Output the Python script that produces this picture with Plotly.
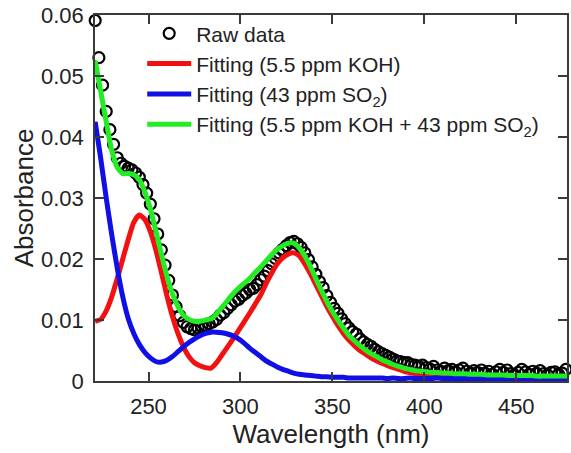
import plotly.graph_objects as go

# Measured spectrum (2 nm sampling)
raw_wavelength = list(range(221, 479, 2))
raw_absorbance = [
    0.0591, 0.0530, 0.0485, 0.0442, 0.0412, 0.0388, 0.0366, 0.0357, 0.0352, 0.0349,
    0.0346, 0.0341, 0.0334, 0.0322, 0.0308, 0.0290, 0.0266, 0.0241, 0.0215, 0.0190,
    0.0165, 0.0141, 0.0122, 0.0107, 0.0096, 0.0089, 0.0086, 0.0084, 0.0087, 0.0089,
    0.0091, 0.0094, 0.0097, 0.0101, 0.0108, 0.0112, 0.0119, 0.0125, 0.0131, 0.0134,
    0.0140, 0.0144, 0.0150, 0.0152, 0.0158, 0.0166, 0.0172, 0.0181, 0.0192, 0.0201,
    0.0210, 0.0216, 0.0222, 0.0227, 0.0229, 0.0225, 0.0219, 0.0210, 0.0199, 0.0187,
    0.0175, 0.0163, 0.0153, 0.0140, 0.0129, 0.0119, 0.0111, 0.0102, 0.0094, 0.0087,
    0.0081, 0.0077, 0.0069, 0.0064, 0.0060, 0.0057, 0.0052, 0.0048, 0.0045, 0.0042,
    0.0039, 0.0036, 0.0033, 0.0032, 0.0030, 0.0030, 0.0027, 0.0026, 0.0024, 0.0026,
    0.0022, 0.0020, 0.0024, 0.0018, 0.0016, 0.0021, 0.0017, 0.0019, 0.0015, 0.0018,
    0.0021, 0.0016, 0.0013, 0.0017, 0.0014, 0.0018, 0.0013, 0.0016, 0.0011, 0.0015,
    0.0019, 0.0014, 0.0018, 0.0012, 0.0010, 0.0014, 0.0019, 0.0015, 0.0011, 0.0016,
    0.0013, 0.0017, 0.0012, 0.0010, 0.0014, 0.0015, 0.0011, 0.0013, 0.0019,
]

# Fitted components (3 nm sampling)
fit_wavelength = list(range(221, 482, 3))
fit_koh = [
    0.0098, 0.0101, 0.0115, 0.0138, 0.0168, 0.0200, 0.0232, 0.0260, 0.0272, 0.0265,
    0.0245, 0.0215, 0.0178, 0.0140, 0.0106, 0.0078, 0.0056, 0.0040, 0.0030, 0.0025,
    0.0022, 0.0021, 0.0030, 0.0043, 0.0056, 0.0069, 0.0083, 0.0097, 0.0111, 0.0126,
    0.0141, 0.0160, 0.0177, 0.0192, 0.0202, 0.0208, 0.0210, 0.0205, 0.0192, 0.0176,
    0.0158, 0.0140, 0.0122, 0.0106, 0.0091, 0.0078, 0.0067, 0.0058, 0.0050, 0.0044,
    0.0038, 0.0033, 0.0029, 0.0025, 0.0022, 0.0019, 0.0016, 0.0014, 0.0012, 0.0011,
    0.0010, 0.0009, 0.0009, 0.0008, 0.0008, 0.0007, 0.0007, 0.0006, 0.0006, 0.0006,
    0.0005, 0.0005, 0.0005, 0.0005, 0.0004, 0.0004, 0.0004, 0.0004, 0.0004, 0.0003,
    0.0003, 0.0003, 0.0003, 0.0003, 0.0003, 0.0003, 0.0003,
]
fit_so2 = [
    0.0425, 0.0365, 0.0300, 0.0240, 0.0185, 0.0138, 0.0102, 0.0078, 0.0060, 0.0047,
    0.0038, 0.0032, 0.0031, 0.0034, 0.0040, 0.0048, 0.0056, 0.0063, 0.0069, 0.0074,
    0.0078, 0.0080, 0.0080, 0.0079, 0.0077, 0.0074, 0.0069, 0.0062, 0.0054, 0.0047,
    0.0040, 0.0033, 0.0028, 0.0023, 0.0019, 0.0016, 0.0013, 0.0011, 0.0010, 0.0009,
    0.0008, 0.0007, 0.0007, 0.0006, 0.0006, 0.0006, 0.0005, 0.0005, 0.0005, 0.0005,
    0.0005, 0.0005, 0.0005, 0.0004, 0.0005, 0.0004, 0.0004, 0.0005, 0.0004, 0.0004,
    0.0004, 0.0004, 0.0005, 0.0004, 0.0004, 0.0004, 0.0004, 0.0004, 0.0004, 0.0003,
    0.0004, 0.0004, 0.0003, 0.0004, 0.0003, 0.0003, 0.0004, 0.0003, 0.0003, 0.0003,
    0.0003, 0.0003, 0.0003, 0.0003, 0.0003, 0.0003, 0.0003,
]
fit_total = [
    0.0525, 0.0475, 0.0425, 0.0378, 0.0350, 0.0340, 0.0340, 0.0338, 0.0330, 0.0310,
    0.0282, 0.0246, 0.0208, 0.0172, 0.0143, 0.0122, 0.0108, 0.0101, 0.0098, 0.0098,
    0.0100, 0.0102, 0.0110, 0.0121, 0.0132, 0.0143, 0.0152, 0.0160, 0.0168, 0.0178,
    0.0187, 0.0197, 0.0207, 0.0216, 0.0222, 0.0226, 0.0226, 0.0218, 0.0205, 0.0188,
    0.0168, 0.0149, 0.0130, 0.0114, 0.0100, 0.0087, 0.0075, 0.0066, 0.0058, 0.0051,
    0.0045, 0.0040, 0.0035, 0.0031, 0.0027, 0.0024, 0.0021, 0.0019, 0.0017, 0.0016,
    0.0015, 0.0014, 0.0014, 0.0013, 0.0013, 0.0012, 0.0012, 0.0012, 0.0011, 0.0011,
    0.0011, 0.0010, 0.0010, 0.0010, 0.0010, 0.0009, 0.0009, 0.0009, 0.0009, 0.0009,
    0.0008, 0.0008, 0.0008, 0.0008, 0.0008, 0.0008, 0.0008,
]

x_ticks = [250, 300, 350, 400, 450]
y_ticks = [0, 0.01, 0.02, 0.03, 0.04, 0.05, 0.06]
y_tick_labels = ["0", "0.01", "0.02", "0.03", "0.04", "0.05", "0.06"]

FONT = "Liberation Sans, Arial, Helvetica, sans-serif"
AXIS_COLOR = "#3a3a3a"

fig = go.Figure()
fig.add_trace(go.Scatter(
    x=raw_wavelength, y=raw_absorbance, mode="markers", name="Raw data",
    marker=dict(symbol="circle-open", size=11, color="black", line=dict(width=2.2, color="black")),
    cliponaxis=False,
))
fig.add_trace(go.Scatter(
    x=fit_wavelength, y=fit_koh, mode="lines", name="Fitting (5.5 ppm KOH)",
    line=dict(color="#f21010", width=5, shape="spline", smoothing=0.6),
))
fig.add_trace(go.Scatter(
    x=fit_wavelength, y=fit_so2, mode="lines", name="Fitting (43 ppm SO<sub>2</sub>)",
    line=dict(color="#1010e6", width=5, shape="spline", smoothing=0.6),
))
fig.add_trace(go.Scatter(
    x=fit_wavelength, y=fit_total, mode="lines",
    name="Fitting (5.5 ppm KOH + 43 ppm SO<sub>2</sub>)",
    line=dict(color="#22ec22", width=5, shape="spline", smoothing=0.6),
))

axis_common = dict(
    showline=True, linecolor=AXIS_COLOR, linewidth=1.5, mirror="ticks",
    ticks="inside", ticklen=9, tickwidth=1.5, tickcolor=AXIS_COLOR,
    showgrid=False, zeroline=False,
    tickfont=dict(family=FONT, size=22, color="#222"),
)

fig.update_layout(
    width=571, height=453,
    margin=dict(l=95, r=4, t=15, b=72, autoexpand=False),
    paper_bgcolor="white", plot_bgcolor="white",
    font=dict(family=FONT, color="#222"),
    showlegend=True,
    legend=dict(
        x=0.1, y=1.005, xanchor="left", yanchor="top",
        bgcolor="rgba(0,0,0,0)", borderwidth=0,
        font=dict(family=FONT, size=21, color="#222"),
        itemwidth=44, tracegroupgap=0,
    ),
    xaxis=dict(
        range=[220.9, 477.6], tickvals=x_ticks, ticklabelstandoff=5,
        title=dict(text="Wavelength (nm)", font=dict(family=FONT, size=26, color="#222"), standoff=4),
        **axis_common,
    ),
    yaxis=dict(
        range=[0, 0.06], tickvals=y_ticks, ticktext=y_tick_labels, ticklabelstandoff=5,
        title=dict(text="Absorbance", font=dict(family=FONT, size=26, color="#222"), standoff=0),
        **axis_common,
    ),
)

fig.write_html("out.html")
